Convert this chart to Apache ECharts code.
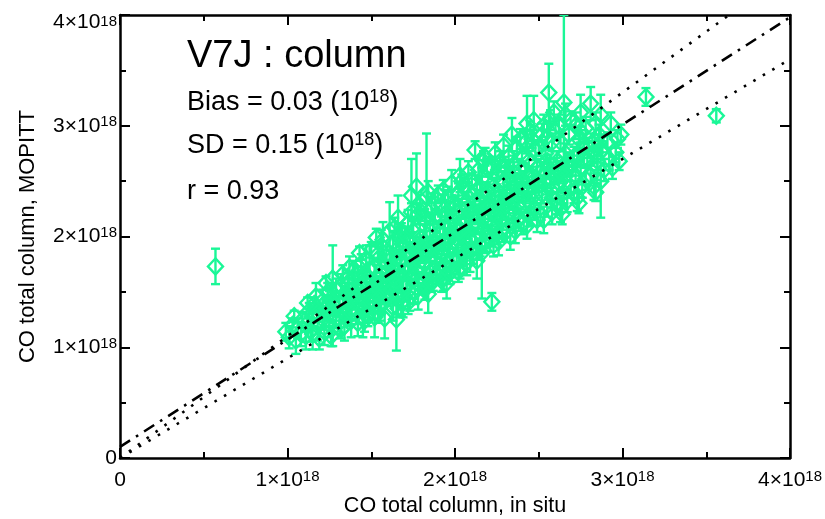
<!DOCTYPE html>
<html><head><meta charset="utf-8">
<script src="https://cdn.jsdelivr.net/npm/echarts@6/dist/echarts.min.js"></script>
<style>html,body{margin:0;padding:0;background:#fff}#c{width:825px;height:519px}</style>
</head><body><div id="c"></div>
<script>
// CO total column, units of 1e18 molec/cm2
const inSitu = [
 0.99,1.01,1.03,1.05,1.06,1.08,1.09,1.04,
 1.11,1.12,1.13,1.14,1.15,1.16,1.17,1.18,1.18,1.19,1.12,1.15,
 1.21,1.21,1.22,1.23,1.24,1.25,1.25,1.26,1.27,1.27,1.28,1.29,1.29,1.23,1.26,
 1.31,1.31,1.32,1.33,1.33,1.34,1.35,1.35,1.36,1.36,1.37,1.38,1.38,1.39,1.39,1.34,1.37,1.32,
 1.41,1.41,1.42,1.42,1.43,1.44,1.44,1.45,1.45,1.46,1.46,1.47,1.47,1.48,1.48,1.49,1.49,1.43,1.46,1.40,
 1.51,1.51,1.52,1.52,1.53,1.53,1.54,1.54,1.55,1.55,1.56,1.56,1.57,1.57,1.58,1.58,1.59,1.59,1.50,1.55,1.57,1.53,
 1.61,1.61,1.62,1.62,1.63,1.63,1.64,1.64,1.65,1.65,1.66,1.66,1.67,1.67,1.68,1.68,1.69,1.69,1.60,1.62,1.64,1.66,1.68,1.69,
 1.71,1.71,1.72,1.72,1.73,1.73,1.74,1.74,1.75,1.75,1.76,1.76,1.77,1.77,1.78,1.78,1.79,1.79,1.70,1.72,1.74,1.76,1.78,1.79,
 1.81,1.81,1.82,1.82,1.83,1.83,1.84,1.84,1.85,1.85,1.86,1.86,1.87,1.87,1.88,1.88,1.89,1.89,1.80,1.82,1.84,1.86,1.88,1.89,
 1.91,1.91,1.92,1.92,1.93,1.93,1.94,1.94,1.95,1.95,1.96,1.96,1.97,1.97,1.98,1.98,1.99,1.99,1.90,1.92,1.94,1.96,1.98,1.99,
 2.01,2.01,2.02,2.02,2.03,2.03,2.04,2.04,2.05,2.05,2.06,2.06,2.07,2.07,2.08,2.08,2.09,2.09,2.00,2.02,2.04,2.06,2.08,2.09,
 2.11,2.11,2.12,2.12,2.13,2.13,2.14,2.14,2.15,2.15,2.16,2.16,2.17,2.17,2.18,2.18,2.19,2.19,2.10,2.12,2.14,2.16,2.18,2.22,
 2.21,2.21,2.22,2.22,2.23,2.23,2.24,2.24,2.25,2.25,2.26,2.26,2.27,2.27,2.28,2.28,2.29,2.29,2.20,2.22,2.24,2.26,2.28,2.29,
 2.31,2.31,2.32,2.32,2.33,2.33,2.34,2.34,2.35,2.35,2.36,2.36,2.37,2.37,2.38,2.38,2.39,2.39,2.30,2.33,2.36,2.39,
 2.41,2.41,2.42,2.42,2.43,2.43,2.44,2.44,2.45,2.45,2.46,2.47,2.47,2.48,2.48,2.49,2.49,2.40,2.42,2.44,2.46,2.48,
 2.51,2.51,2.52,2.52,2.53,2.53,2.54,2.54,2.55,2.56,2.56,2.57,2.57,2.58,2.58,2.59,2.59,2.50,2.55,2.58,
 2.61,2.61,2.62,2.62,2.63,2.63,2.64,2.65,2.65,2.66,2.66,2.67,2.68,2.68,2.69,2.69,2.60,2.64,
 2.71,2.71,2.72,2.72,2.73,2.74,2.75,2.75,2.76,2.77,2.78,2.78,2.79,2.74,
 2.81,2.81,2.82,2.83,2.84,2.85,2.86,2.87,2.87,2.88,2.89,2.84,
 2.91,2.92,2.93,2.94,2.96,2.97,2.99,2.98,
 1.42,1.47,1.52,1.56,1.60,1.63,1.67,1.70,1.73,1.77,1.80,1.83,1.87,1.90,1.93,1.97,2.00,2.03,2.07,2.10,2.13,2.17,
 2.20,2.23,2.27,2.30,2.33,2.37,2.40,2.43,2.47,2.50,2.53,2.57,2.60,2.63,2.67,2.70,2.73,2.77,2.80,2.83,2.86,
 1.45,1.55,1.65,1.75,1.85,1.95,2.05,2.15,2.25,2.35,2.45,2.55,2.65,2.75,2.85,1.35,1.25,
 0.57,3.14,3.56
];
const mopitt = [
 1.14,1.09,1.20,1.06,1.17,1.12,1.25,1.28,
 1.10,1.22,1.33,1.15,1.28,1.39,1.46,1.19,1.31,1.08,1.40,1.12,
 1.25,1.42,1.14,1.35,1.50,1.20,1.30,1.44,1.62,1.17,1.37,1.52,1.26,1.58,1.10,
 1.22,1.40,1.55,1.31,1.66,1.19,1.47,1.36,1.58,1.27,1.72,1.43,1.24,1.52,1.63,1.42,1.33,1.16,
 1.30,1.48,1.62,1.22,1.40,1.75,1.54,1.27,1.45,1.66,1.36,1.58,1.80,1.30,1.49,1.70,1.40,1.85,1.24,1.70,
 1.35,1.55,1.27,1.72,1.44,1.63,1.84,1.31,1.50,1.76,1.40,1.92,1.60,1.97,1.26,1.47,1.68,1.82,1.88,1.36,1.53,1.99,
 2.05,1.45,1.62,1.80,1.36,1.95,1.55,1.72,1.25,1.88,2.17,1.48,1.66,2.00,1.40,1.78,1.58,1.93,1.70,1.52,2.08,1.35,2.05,1.47,
 1.55,1.85,1.68,2.12,1.45,1.96,2.37,1.62,1.78,2.05,1.50,1.90,2.45,1.70,2.20,1.58,1.83,2.00,2.02,1.40,2.22,1.64,1.46,2.28,
 1.62,1.95,1.75,2.15,1.55,2.35,1.85,1.48,2.05,1.68,2.25,1.92,1.60,2.10,1.78,2.30,1.98,1.66,2.22,1.52,2.40,1.58,2.18,1.86,
 1.70,2.05,1.85,2.28,1.63,2.42,1.95,2.20,1.58,1.76,2.12,2.35,1.90,1.67,2.02,2.48,1.80,2.25,2.38,1.60,1.72,1.98,1.73,2.15,
 1.78,2.10,1.92,2.38,1.72,2.55,2.00,2.25,1.83,2.45,2.15,1.95,2.32,1.76,2.05,2.58,1.88,2.22,2.30,1.68,2.50,1.85,2.40,1.98,
 1.85,2.20,2.78,2.00,2.42,1.78,2.10,2.60,1.92,2.30,1.85,2.52,2.05,2.68,2.18,1.95,2.40,2.62,2.50,2.30,1.88,2.25,2.72,1.41,
 1.98,2.30,2.10,2.62,1.92,2.45,2.20,2.75,2.02,2.55,2.35,1.95,2.15,2.68,2.28,2.05,2.50,2.82,2.40,2.00,2.38,2.60,2.15,2.25,
 2.05,2.40,2.20,2.72,2.00,2.55,2.32,2.92,2.12,2.65,2.45,2.05,2.28,2.80,2.38,2.15,2.60,2.88,2.62,2.48,2.22,2.50,
 2.12,2.50,2.30,2.85,3.02,2.10,2.42,2.68,2.20,2.95,2.55,3.05,2.25,2.38,2.78,2.15,2.62,2.72,2.60,2.18,2.88,2.48,
 2.20,2.58,2.38,2.92,3.00,2.15,2.48,2.75,2.28,3.30,2.62,2.42,3.05,2.22,2.85,2.55,3.12,2.80,2.68,2.35,
 2.30,2.68,2.48,3.00,2.25,2.85,2.58,3.21,2.40,2.75,3.10,2.32,2.62,2.92,2.45,3.05,2.95,2.20,
 2.40,2.72,2.55,3.00,2.35,2.88,3.12,2.62,2.45,2.80,2.98,2.52,2.70,2.30,
 3.20,2.55,2.85,2.45,3.02,2.68,2.92,2.50,3.10,2.78,2.60,2.40,
 2.85,2.70,3.02,2.62,2.76,2.88,2.92,2.68,
 1.52,1.60,1.56,1.66,1.62,1.70,1.78,1.74,1.84,1.80,1.90,1.86,1.95,1.92,2.02,1.98,2.08,2.05,2.14,2.10,2.20,2.16,
 2.26,2.22,2.32,2.28,2.38,2.35,2.44,2.40,2.50,2.46,2.56,2.52,2.62,2.58,2.68,2.64,2.74,2.70,2.80,2.76,2.84,
 1.34,1.45,1.60,1.88,1.72,2.22,1.90,2.45,2.10,2.58,2.30,2.90,2.48,2.95,2.62,1.50,1.38,
 1.73,3.26,3.09
];
const uncertainty = [
 0.08,0.10,0.06,0.12,0.09,0.11,0.07,0.05,
 0.12,0.08,0.07,0.10,0.09,0.06,0.12,0.13,0.08,0.10,0.05,0.14,
 0.09,0.10,0.12,0.07,0.08,0.11,0.06,0.09,0.30,0.16,0.08,0.10,0.07,0.06,0.09,
 0.10,0.09,0.11,0.07,0.08,0.13,0.08,0.10,0.09,0.08,0.10,0.07,0.15,0.09,0.12,0.06,0.09,0.08,
 0.09,0.08,0.11,0.12,0.07,0.09,0.10,0.18,0.08,0.07,0.09,0.10,0.12,0.11,0.08,0.22,0.07,0.06,0.10,0.08,
 0.10,0.09,0.18,0.08,0.07,0.11,0.10,0.09,0.08,0.09,0.10,0.14,0.07,0.16,0.18,0.08,0.10,0.09,0.07,0.12,0.06,0.08,
 0.26,0.08,0.09,0.07,0.12,0.10,0.08,0.09,0.28,0.08,0.20,0.10,0.07,0.09,0.12,0.08,0.09,0.11,0.06,0.10,0.09,0.08,0.07,0.20,
 0.09,0.10,0.08,0.12,0.12,0.08,0.33,0.09,0.07,0.10,0.11,0.09,0.30,0.08,0.09,0.10,0.07,0.11,0.07,0.10,0.08,0.06,0.12,0.10,
 0.10,0.09,0.08,0.10,0.12,0.58,0.08,0.17,0.09,0.10,0.11,0.07,0.09,0.10,0.08,0.09,0.10,0.09,0.08,0.09,0.10,0.08,0.07,0.11,
 0.10,0.09,0.08,0.10,0.12,0.09,0.07,0.22,0.14,0.08,0.09,0.10,0.08,0.10,0.07,0.12,0.09,0.10,0.08,0.10,0.11,0.06,0.10,0.08,
 0.12,0.09,0.08,0.10,0.10,0.15,0.07,0.09,0.10,0.08,0.10,0.09,0.08,0.11,0.07,0.10,0.20,0.08,0.07,0.09,0.06,0.10,0.09,0.08,
 0.10,0.09,0.08,0.08,0.10,0.16,0.07,0.09,0.10,0.08,0.41,0.10,0.08,0.09,0.07,0.10,0.09,0.08,0.07,0.08,0.09,0.07,0.08,0.08,
 0.12,0.09,0.08,0.10,0.10,0.08,0.07,0.10,0.09,0.08,0.10,0.12,0.08,0.09,0.07,0.10,0.08,0.10,0.07,0.09,0.06,0.08,0.09,0.07,
 0.10,0.09,0.08,0.10,0.12,0.08,0.07,0.15,0.09,0.08,0.10,0.11,0.08,0.10,0.07,0.10,0.08,0.09,0.07,0.06,0.09,0.07,
 0.10,0.09,0.08,0.10,0.25,0.12,0.07,0.09,0.10,0.09,0.08,0.22,0.10,0.08,0.09,0.11,0.08,0.07,0.06,0.09,0.08,0.07,
 0.10,0.09,0.08,0.10,0.10,0.12,0.07,0.09,0.10,0.26,0.08,0.10,0.09,0.11,0.08,0.08,0.10,0.07,0.06,0.09,
 0.10,0.09,0.08,0.10,0.12,0.08,0.07,0.79,0.10,0.09,0.10,0.10,0.08,0.09,0.10,0.08,0.07,0.09,
 0.10,0.09,0.08,0.12,0.12,0.08,0.16,0.07,0.10,0.09,0.10,0.10,0.08,0.09,
 0.15,0.09,0.08,0.12,0.10,0.08,0.09,0.33,0.18,0.08,0.10,0.08,
 0.09,0.10,0.10,0.10,0.09,0.08,0.09,0.08,
 0.09,0.10,0.08,0.11,0.09,0.08,0.10,0.12,0.09,0.08,0.10,0.09,0.11,0.08,0.10,0.09,0.08,0.12,0.09,0.10,0.08,0.09,
 0.10,0.08,0.09,0.11,0.08,0.10,0.09,0.08,0.10,0.09,0.11,0.08,0.09,0.10,0.08,0.09,0.10,0.08,0.09,0.10,0.08,
 0.12,0.10,0.09,0.11,0.10,0.09,0.12,0.10,0.11,0.09,0.10,0.12,0.09,0.10,0.11,0.08,0.09,
 0.16,0.08,0.06
];
// reference lines (data units): regression fit, +10%, -10%
const fitLine = [[0, 0.10], [4, 3.98]];
const upperLine = [[0, 0], [4, 4.4]];
const lowerLine = [[0, 0], [4, 3.6]];
const exponent = '18';
const titleText = 'V7J : column';
const statLines = [['Bias = 0.03 (10', '18', ')'], ['SD = 0.15 (10', '18', ')'], ['r = 0.93']];
const xTitle = 'CO total column, in situ';
const yTitle = 'CO total column, MOPITT';

const GREEN = '#1af797';
const FONT = 'Liberation Sans';
const n = Math.min(inSitu.length, mopitt.length, uncertainty.length);
const pts = [];
for (let i = 0; i < n; i++) pts.push([inSitu[i], mopitt[i], uncertainty[i]]);

const xTickFmt = v => (v === 0 ? '{m|0}' : '{m|' + v + '×10}{s|' + exponent + '}');
const yTickFmt = v => (v === 0 ? '{m|0}' : v === 4 ? '{mt|' + v + '×10}{st|' + exponent + '}'
  : '{m|' + v + '×10}{s|' + exponent + '}');
const labelRich = {
  m: { fontSize: 21, fontFamily: FONT, color: '#000', lineHeight: 22 },
  s: { fontSize: 15, fontFamily: FONT, color: '#000', lineHeight: 8, verticalAlign: 'top' },
  mt: { fontSize: 21, fontFamily: FONT, color: '#000', lineHeight: 22, padding: [14, 0, 0, 0] },
  st: { fontSize: 15, fontFamily: FONT, color: '#000', lineHeight: 14, verticalAlign: 'top', padding: [10, 0, 0, 0] }
};
function axisCommon(extra) {
  return Object.assign({
    type: 'value', min: 0, max: 4, interval: 1,
    axisLine: { show: true, onZero: false, lineStyle: { color: '#000', width: 2.5 } },
    axisTick: { show: true, inside: true, length: 10, lineStyle: { color: '#000', width: 2 } },
    minorTick: { show: true, splitNumber: 2, length: 6, lineStyle: { color: '#000', width: 2 } },
    splitLine: { show: false }, minorSplitLine: { show: false }
  }, extra);
}

const chart = echarts.init(document.getElementById('c'), null, { renderer: 'canvas' });
const statGraphics = statLines.map((parts, i) => {
  let txt = '{m|' + parts[0] + '}';
  if (parts[1]) txt += '{s|' + parts[1] + '}{m|' + parts[2] + '}';
  return {
    type: 'text', z: 100,
    style: {
      x: 187, y: [103, 146, 192][i], text: txt, align: 'left', verticalAlign: 'middle',
      rich: {
        m: { fontSize: 27, fontFamily: FONT, fill: '#000', lineHeight: 30 },
        s: { fontSize: 18, fontFamily: FONT, fill: '#000', lineHeight: 18, verticalAlign: 'top' }
      }
    }
  };
});

chart.setOption({
  animation: false,
  backgroundColor: '#fff',
  grid: { left: 120, right: 35, top: 15, bottom: 61, containLabel: false, outerBoundsMode: 'none' },
  xAxis: [
    axisCommon({
      position: 'bottom',
      axisLabel: { formatter: xTickFmt, rich: labelRich, margin: 11 },
      name: xTitle, nameLocation: 'middle', nameGap: 34,
      nameTextStyle: { fontSize: 21.5, fontFamily: FONT, color: '#000' }
    }),
    axisCommon({ position: 'top', axisLabel: { show: false } })
  ],
  yAxis: [
    axisCommon({
      position: 'left',
      axisLabel: { formatter: yTickFmt, rich: labelRich, margin: 3 },
      name: yTitle, nameLocation: 'middle', nameGap: 81,
      nameTextStyle: { fontSize: 22, fontFamily: FONT, color: '#000' }
    }),
    axisCommon({ position: 'right', axisLabel: { show: false } })
  ],
  graphic: [{
    type: 'text', z: 100,
    style: { x: 187, y: 57, text: titleText, align: 'left', verticalAlign: 'middle',
      font: '38px "' + FONT + '"', fill: '#000' }
  }].concat(statGraphics),
  series: [
    {
      type: 'custom', name: 'errors', data: pts, clip: true, z: 2, silent: true,
      renderItem: function (params, api) {
        const x = api.value(0), y = api.value(1), e = api.value(2);
        const t = api.coord([x, y + e]), b = api.coord([x, y - e]);
        const cw = 4.5;
        const st = { stroke: GREEN, lineWidth: 2.4 };
        return {
          type: 'group', children: [
            { type: 'line', shape: { x1: t[0], y1: t[1], x2: b[0], y2: b[1] }, style: st },
            { type: 'line', shape: { x1: t[0] - cw, y1: t[1], x2: t[0] + cw, y2: t[1] }, style: st },
            { type: 'line', shape: { x1: b[0] - cw, y1: b[1], x2: b[0] + cw, y2: b[1] }, style: st }
          ]
        };
      }
    },
    {
      type: 'scatter', name: 'points', data: pts.map(p => [p[0], p[1]]), z: 3, silent: true,
      symbol: 'diamond', symbolSize: [15, 16],
      itemStyle: { color: 'rgba(0,0,0,0)', borderColor: GREEN, borderWidth: 2.4, opacity: 1 }
    },
    {
      type: 'line', data: upperLine, symbol: 'none', z: 5, silent: true, clip: true,
      lineStyle: { color: '#000', width: 2.6, type: [2.6, 8.4] }
    },
    {
      type: 'line', data: lowerLine, symbol: 'none', z: 5, silent: true, clip: true,
      lineStyle: { color: '#000', width: 2.6, type: [2.6, 8.4] }
    },
    {
      type: 'line', data: fitLine, symbol: 'none', z: 6, silent: true, clip: true,
      lineStyle: { color: '#000', width: 2.6, type: [12, 7, 2.6, 7] }
    }
  ]
});
</script></body></html>
